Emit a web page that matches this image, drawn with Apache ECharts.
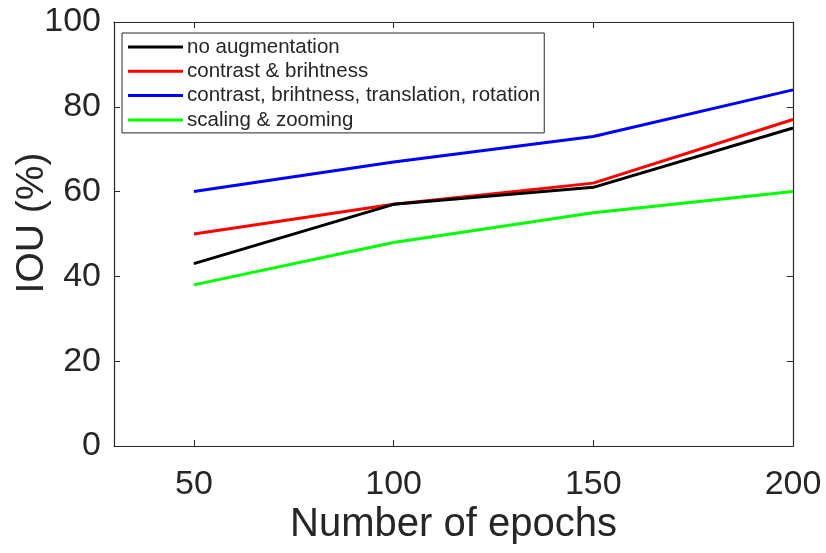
<!DOCTYPE html>
<html><head><meta charset="utf-8">
<script src="https://cdn.jsdelivr.net/npm/echarts@6/dist/echarts.min.js"></script>
<style>html,body{margin:0;padding:0;background:#fff}#c{width:826px;height:553px}</style>
</head><body><div id="c"></div>
<script>
const epochs = [50, 100, 150, 200];
const xTicks = [50, 100, 150, 200];
const yTicks = [0, 20, 40, 60, 80, 100];
const seriesNames = ['no augmentation', 'contrast & brihtness', 'contrast, brihtness, translation, rotation', 'scaling & zooming'];
const noAug = [43, 57, 61, 75];
const contrastBright = [50, 57, 62, 77];
const contrastBrightTransRot = [60, 67, 73, 84];
const scalingZoom = [38, 48, 55, 60];
const colors = ['#000000', '#ff0000', '#0000ff', '#00ff00'];
const values = [noAug, contrastBright, contrastBrightTransRot, scalingZoom];

const axisColor = '#262626';
const font = 'Liberation Sans, Arial, sans-serif';
const chart = echarts.init(document.getElementById('c'));
const series = seriesNames.map((n, i) => ({
  name: n, type: 'line', xAxisIndex: 0, yAxisIndex: 0,
  data: epochs.map((e, j) => [e, values[i][j]]),
  showSymbol: false, symbol: 'none',
  lineStyle: {color: colors[i], width: 3},
  itemStyle: {color: colors[i]},
  z: 10 - i, animation: false
}));
chart.setOption({
  animation: false,
  backgroundColor: '#fff',
  grid: {left: 114, right: 33, top: 22, bottom: 107, show: false, containLabel: false, outerBoundsMode: 'none'},
  legend: {
    orient: 'vertical', left: 122, top: 33,
    icon: 'rect', itemWidth: 55, itemHeight: 3, itemGap: 0.3,
    padding: [2, 4, 1, 6],
    backgroundColor: '#fff', borderColor: axisColor, borderWidth: 1,
    textStyle: {fontFamily: font, fontSize: 20.5, color: axisColor, lineHeight: 24, padding: [0, 0, 0, -1]},
    data: seriesNames
  },
  xAxis: [{
    type: 'value', min: 30, max: 200, position: 'bottom',
    name: 'Number of epochs', nameLocation: 'middle', nameGap: 59, nameMoveOverlap: false,
    nameTextStyle: {fontFamily: font, fontSize: 40, color: axisColor},
    axisLine: {show: true, lineStyle: {color: axisColor, width: 1.2}},
    axisTick: {show: true, inside: true, length: 6, customValues: xTicks, lineStyle: {color: axisColor}},
    axisLabel: {customValues: xTicks, fontFamily: font, fontSize: 34, color: axisColor, margin: 22},
    splitLine: {show: false}
  }, {
    type: 'value', min: 30, max: 200, position: 'top',
    axisLine: {show: true, onZero: false, lineStyle: {color: axisColor, width: 1.2}},
    axisTick: {show: true, inside: true, length: 6, customValues: xTicks, lineStyle: {color: axisColor}},
    axisLabel: {show: false}, splitLine: {show: false}
  }],
  yAxis: [{
    type: 'value', min: 0, max: 100, interval: 20, position: 'left',
    name: 'IOU (%)', nameLocation: 'middle', nameGap: 62, nameMoveOverlap: false,
    nameTextStyle: {fontFamily: font, fontSize: 39, color: axisColor, padding: [0, 0, 0, 22]},
    axisLine: {show: true, lineStyle: {color: axisColor, width: 1.2}},
    axisTick: {show: true, inside: true, length: 6, lineStyle: {color: axisColor}},
    axisLabel: {fontFamily: font, fontSize: 34, color: axisColor, margin: 13, padding: [6, 0, 0, 0]},
    splitLine: {show: false}
  }, {
    type: 'value', min: 0, max: 100, interval: 20, position: 'right',
    axisLine: {show: true, onZero: false, lineStyle: {color: axisColor, width: 1.2}},
    axisTick: {show: true, inside: true, length: 6, lineStyle: {color: axisColor}},
    axisLabel: {show: false}, splitLine: {show: false}
  }],
  series: series
});
</script></body></html>
